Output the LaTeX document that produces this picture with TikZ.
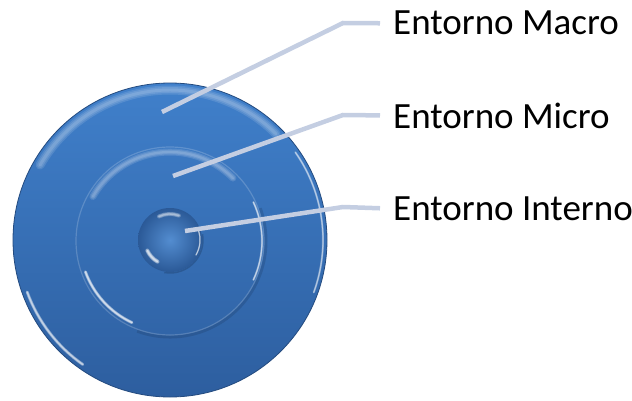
\documentclass[tikz,border=0pt]{standalone}
\usepackage{fontspec}
\setmainfont{Carlito}
\usetikzlibrary{calc}
\definecolor{bluetop}{HTML}{4080CB}
\definecolor{bluebot}{HTML}{2D5E9F}
\definecolor{leader}{HTML}{C4CEE2}
\tikzset{
  lbl/.style={anchor=base west, inner xsep=13pt, inner ysep=0pt, font=\fontsize{37}{42}\selectfont},
  leaderline/.style={leader, line width=4.5pt},
  hilite/.style={white, line cap=round},
}
\newcommand\softarc[6]{% center, r, start, end, maxwidth, opacity
  \foreach \w in {1,0.66,0.33}{
    \draw[hilite, opacity=#6, line width=\w*#5] (#1) ++(#3:#2) arc[start angle=#3,end angle=#4,radius=#2];
  }}
\begin{document}
\begin{tikzpicture}[x=1pt,y=1pt]
\useasboundingbox (0,0) rectangle (632,400);
\coordinate (c) at (170,160);
\coordinate (m) at (170,159);
\coordinate (s) at (170,160);
% outer disk
\shade[top color=bluetop, bottom color=bluebot] (c) circle[radius=157];
\draw[bluebot!80!black, line width=0.8pt] (c) circle[radius=157];
\softarc{c}{150}{45}{150}{9pt}{0.12}
\softarc{c}{152}{200}{235}{3pt}{0.35}
\softarc{c}{153}{-20}{35}{2pt}{0.3}
% middle ring
\draw[bluebot!60!black, opacity=0.25, line width=3pt] (m) ++(-110:96) arc[start angle=-110,end angle=20,radius=96];
\draw[white, opacity=0.18, line width=1.2pt] (m) circle[radius=94];
\softarc{m}{89}{45}{150}{7pt}{0.13}
\softarc{m}{90}{200}{245}{3pt}{0.4}
\softarc{m}{92}{-25}{25}{2pt}{0.35}
% inner sphere
\shade[inner color=bluetop!90!white, outer color=bluebot!95!black] (s) circle[radius=32];
\draw[bluebot!60!black, opacity=0.35, line width=1.5pt] (s) ++(-100:33) arc[start angle=-100,end angle=10,radius=33];
\softarc{s}{26}{70}{115}{4pt}{0.25}
\softarc{s}{25}{205}{240}{4pt}{0.4}
\softarc{s}{30}{-30}{20}{1.5pt}{0.35}
% labels
\node[lbl] (macro) at (380,365) {Entorno Macro};
\node[lbl] (micro) at (380,272) {Entorno Micro};
\node[lbl] (inter) at (380,180) {Entorno Interno};
\coordinate (pmacro) at (162,288);
\coordinate (pmicro) at (173,224);
\coordinate (pinter) at (185,169);
\draw[leaderline] (pmacro) -- (343,377) -- (macro.west);
\draw[leaderline] (pmicro) -- (343,285) -- (micro.west);
\draw[leaderline] (pinter) -- (343,193) -- (inter.west);
\end{tikzpicture}
\end{document}
